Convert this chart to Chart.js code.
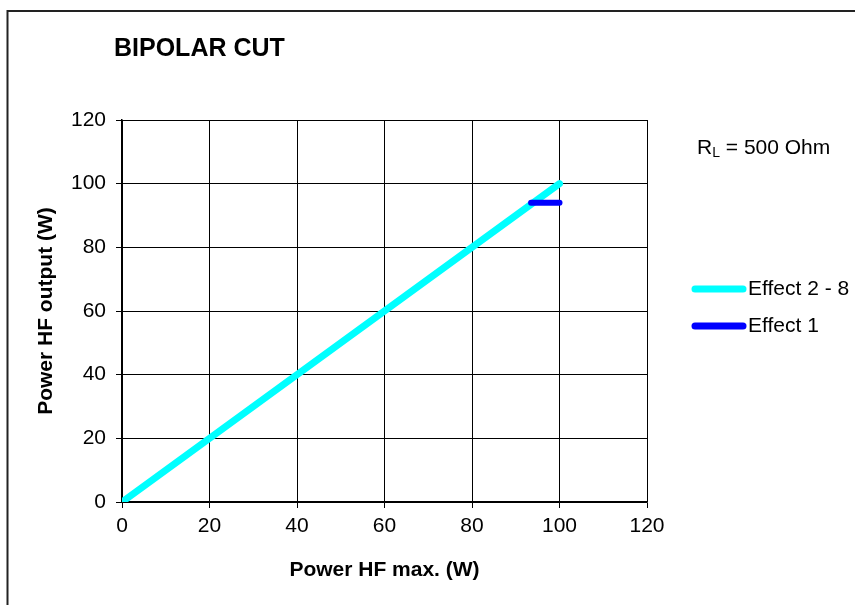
<!DOCTYPE html>
<html>
<head>
<meta charset="utf-8">
<script src="https://cdn.jsdelivr.net/npm/chart.js@4.4.0/dist/chart.umd.min.js"></script>
<style>
  html, body { margin:0; padding:0; background:#fff; }
  canvas { display:block; }
</style>
</head>
<body>
<canvas id="bipolar_chart" width="855" height="605"></canvas>
<script>
// data
const effect28X = [0, 100];
const effect28Y = [0, 100];
const effect1X = [93.5, 100];
const effect1Y = [94, 94];
const axisTicks = [0, 20, 40, 60, 80, 100, 120];
const seriesNames = ["Effect 2 - 8", "Effect 1"];
const seriesColors = ["rgb(0,255,255)", "rgb(0,0,255)"];

function toPoints(xs, ys){
    let arr = new Array();
    for(let i=0; i<xs.length; i++){
        arr.push({x:xs[i], y:ys[i]});
    }
    return arr;
}

const fontName = "Arial, 'Liberation Sans', sans-serif";

// frame, title, R_L note and legend
const extras = {
    id:"extras",
    afterDraw(chart){
        const ctx = chart.ctx;
        ctx.save();
        // outer frame (only top and left are visible)
        ctx.strokeStyle = "#222";
        ctx.lineWidth = 2;
        ctx.beginPath();
        ctx.moveTo(7.5, 605);
        ctx.lineTo(7.5, 11);
        ctx.lineTo(855, 11);
        ctx.stroke();

        ctx.fillStyle = "#000";
        ctx.textBaseline = "middle";
        ctx.textAlign = "left";
        ctx.font = "bold 25px " + fontName;
        ctx.fillText("BIPOLAR CUT", 114, 49);

        // R_L = 500 Ohm
        ctx.font = "21px " + fontName;
        let x = 697;
        ctx.fillText("R", x, 148);
        x += ctx.measureText("R").width;
        ctx.font = "14px " + fontName;
        ctx.fillText("L", x, 153);
        x += ctx.measureText("L").width;
        ctx.font = "21px " + fontName;
        ctx.fillText(" = 500 Ohm", x, 148);

        // legend
        const ly = [289, 326];
        for(let i=0; i<seriesNames.length; i++){
            ctx.strokeStyle = seriesColors[i];
            ctx.lineWidth = 7;
            ctx.lineCap = "round";
            ctx.beginPath();
            ctx.moveTo(695, ly[i]);
            ctx.lineTo(743, ly[i]);
            ctx.stroke();
            ctx.fillStyle = "#000";
            ctx.font = "21px " + fontName;
            ctx.fillText(seriesNames[i], 748, ly[i]);
        }
        ctx.restore();
    }
};

const axisCommon = {
    type:"linear",
    min:0,
    max:120,
    afterBuildTicks(scale){
        scale.ticks = axisTicks.map(v => ({value:v}));
    },
    grid:{
        color:"#000",
        lineWidth:1,
        tickLength:6,
        tickColor:"#000"
    },
    border:{ color:"#000", width:1.5 },
    ticks:{
        color:"#000",
        font:{ family:fontName, size:21 },
        maxRotation:0
    }
};

new Chart(document.getElementById("bipolar_chart"), {
    type:"scatter",
    data:{
        datasets:[{
            label:seriesNames[0],
            data:toPoints(effect28X, effect28Y),
            showLine:true,
            borderColor:seriesColors[0],
            backgroundColor:seriesColors[0],
            borderWidth:7,
            borderCapStyle:"round",
            pointRadius:0,
            order:1
        },
        {
            label:seriesNames[1],
            data:toPoints(effect1X, effect1Y),
            showLine:true,
            borderColor:seriesColors[1],
            backgroundColor:seriesColors[1],
            borderWidth:6,
            borderCapStyle:"round",
            pointRadius:0,
            order:0 // blue line sits on top of the cyan one
        }]
    },
    options:{
        responsive:false,
        animation:false,
        layout:{
            padding:{ left:0, top:120, right:208, bottom:0 }
        },
        plugins:{
            legend:{ display:false },
            tooltip:{ enabled:false }
        },
        scales:{
            x:Object.assign({}, axisCommon, {
                position:"bottom",
                ticks:Object.assign({}, axisCommon.ticks, { padding:6 }),
                title:{
                    display:true,
                    text:"Power HF max. (W)",
                    color:"#000",
                    font:{ family:fontName, size:21, weight:"bold" },
                    padding:{ top:0, bottom:22 }
                },
                afterFit(scale){ scale.height = 103; }
            }),
            y:Object.assign({}, axisCommon, {
                position:"left",
                ticks:Object.assign({}, axisCommon.ticks, { padding:10 }),
                title:{
                    display:true,
                    text:"Power HF output (W)",
                    color:"#000",
                    font:{ family:fontName, size:21, weight:"bold" },
                    padding:{ top:34, bottom:0 }
                },
                afterFit(scale){ scale.width = 122; }
            })
        }
    },
    plugins:[extras]
});
</script>
</body>
</html>
